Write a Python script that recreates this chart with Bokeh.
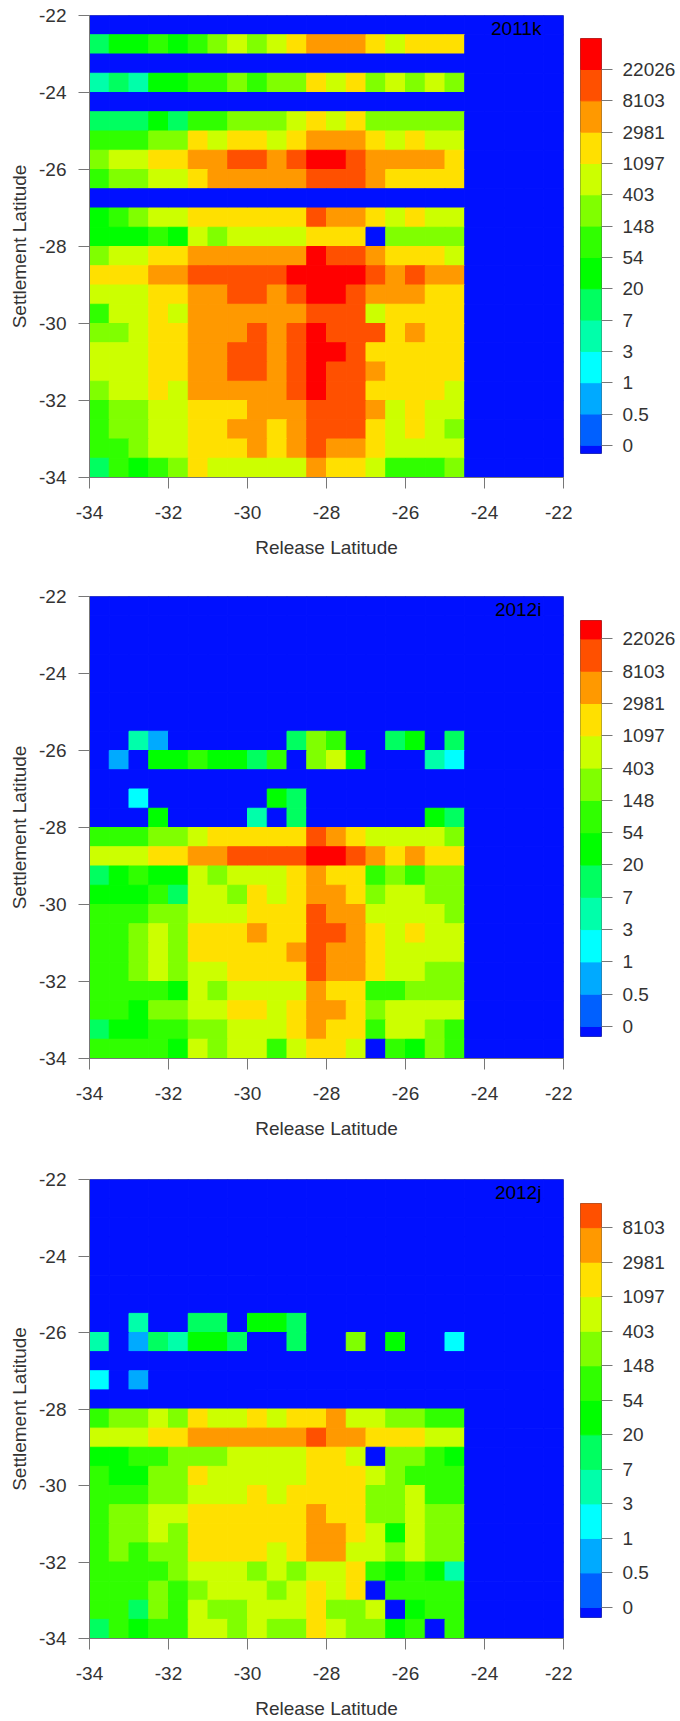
from bokeh.plotting import figure
from bokeh.layouts import column, row
from bokeh.models import ColumnDataSource, FixedTicker, Range1d
from bokeh.core.properties import value
from bokeh.embed import file_html
from bokeh.resources import INLINE

# Colour bands, lowest first (letter code used in the grids below)
band_codes = "BabcdefghijklM"
band_colors = ["#0010ff", "#0060ff", "#00aaff", "#00ffff", "#00ffaa", "#00ff60", "#00ff00",
               "#30ff00", "#80ff00", "#ccff00", "#ffe000", "#ff9900", "#ff5000", "#ff0000"]
color_ticks_full = ["0", "0.5", "1", "3", "7", "20", "54", "148", "403", "1097", "2981", "8103", "22026"]
color_ticks_short = color_ticks_full[:-1]
axis_ticks = [-34, -32, -30, -28, -26, -24, -22]
axis_labels = ["-34", "-32", "-30", "-28", "-26", "-24", "-22"]

# Rows run from settlement latitude -22 (top) to -34 (bottom); columns from release -34 to -22.
grid_2011k = [
    "BBBBBBBBBBBBBBBBBBBBBBBB",
    "effgfghihijkkkjijjjBBBBB",
    "BBBBBBBBBBBBBBBBBBBBBBBB",
    "dedffgghghhjijhihihBBBBB",
    "BBBBBBBBBBBBBBBBBBBBBBBB",
    "eeefegghhhijijhhhhhBBBBB",
    "ggghhjijjijkkkjijiiBBBBB",
    "hiijjkkllklMMlkkkkjBBBBB",
    "ghhiijkkkkklllkjjjjBBBBB",
    "BBBBBBBBBBBBBBBBBBBBBBBB",
    "fghiijjjjjjlkkjijiiBBBBB",
    "fffgfihiiiijjjBhhhhBBBBB",
    "hiijjkkkkkkMllkjjjiBBBBB",
    "jjjkklllllMMMMlklkkBBBBB",
    "iiijjkkllklMMlkkkjjBBBBB",
    "giijikkkkkklllijjjjBBBBB",
    "hhijjkkklklMllljkjjBBBBB",
    "iiijjkkllklMMljjjjjBBBBB",
    "iiijjkkllklMllkjjjjBBBBB",
    "hiijikkkkklMlljjjjiBBBBB",
    "ghhiijjjkkklllkijiiBBBBB",
    "ghhiijjkkjkllljijihBBBBB",
    "gghiijjjkjklkkjiiiiBBBBB",
    "egfghjiiiiikjjiggghBBBBB",
]
grid_2012i = [
    "BBBBBBBBBBBBBBBBBBBBBBBB",
    "BBBBBBBBBBBBBBBBBBBBBBBB",
    "BBBBBBBBBBBBBBBBBBBBBBBB",
    "BBBBBBBBBBBBBBBBBBBBBBBB",
    "BBBBBBBBBBBBBBBBBBBBBBBB",
    "BBBBBBBBBBBBBBBBBBBBBBBB",
    "BBBBBBBBBBBBBBBBBBBBBBBB",
    "BBdbBBBBBBehgBBefBeBBBBB",
    "BbBffgffegBhifBBBdcBBBBB",
    "BBBBBBBBBBBBBBBBBBBBBBBB",
    "BBcBBBBBBfeBBBBBBBBBBBBB",
    "BBBfBBBBdBeBBBBBBfeBBBBB",
    "ggghhijjjjjlkjiiiihBBBBB",
    "iiijjkkllllMMlkjkjjBBBBB",
    "efgffihiiijkjjghghhBBBBB",
    "fffgeiihjijkkjhiihhBBBBB",
    "ggghhiiijjjlkkiiiihBBBBB",
    "gghihjjjkjjllkjijiiBBBBB",
    "gghihjjjjjklkkjiiiiBBBBB",
    "gghihiijjjjlkkjiihhBBBBB",
    "ggggfihiiiikjjgghhhBBBBB",
    "ggfhhiijjijkkjhiiiiBBBBB",
    "effgghhiiijkjjgiihgBBBBB",
    "ggggfihiigijjiBgfhgBBBBB",
]
grid_2012j = [
    "BBBBBBBBBBBBBBBBBBBBBBBB",
    "BBBBBBBBBBBBBBBBBBBBBBBB",
    "BBBBBBBBBBBBBBBBBBBBBBBB",
    "BBBBBBBBBBBBBBBBBBBBBBBB",
    "BBBBBBBBBBBBBBBBBBBBBBBB",
    "BBBBBBBBBBBBBBBBBBBBBBBB",
    "BBBBBBBBBBBBBBBBBBBBBBBB",
    "BBdBBeeBffeBBBBBBBBBBBBB",
    "dBbedffeBBeBBhBfBBcBBBBB",
    "BBBBBBBBBBBBBBBBBBBBBBBB",
    "cBbBBBBBBBBBBBBBBBBBBBBB",
    "BBBBBBBBBBBBBBBBBBBBBBBB",
    "ghhihjiijijjkiihhggBBBBB",
    "iiijjkkkkkklkkjjjiiBBBBB",
    "ffgghhhiiiijjiBhhgfBBBBB",
    "gffhhjiiiiijjjihgggBBBBB",
    "ggghhiiijijjjjhhiggBBBBB",
    "ghhiijjjjjjkjjhhihhBBBBB",
    "ghhihjjjjjjkkjifihhBBBBB",
    "ghghhjjjjijkkiihihhBBBBB",
    "gggghiiihihiijgfgfdBBBBB",
    "ggghghiiihijijBggggBBBBB",
    "ggehgihhiiijhhiBfggBBBBB",
    "egfggiihihhjihhfgBgBBBBB",
]
panel_titles = ["2011k", "2012i", "2012j"]
panel_grids = [grid_2011k, grid_2012i, grid_2012j]
x_limits = (-34, -22)
cell_size = 0.5

FONT = "Liberation Sans"
TEXT = "#333333"
LINE = "#777777"
FS = "19px"

# pixel layout per panel: top border, bottom border, figure height
panel_box = [(15, 93, 570), (26, 92, 580), (29, 80, 571)]
# colour bar: top border, bottom border, range below tick 0, range above last tick
bar_box = [(38, 117, 0.26, 0.99), (50, 114, 0.31, 0.57), (53, 104, 0.29, 0.70)]
bar_ticks = [color_ticks_full, color_ticks_full, color_ticks_short]


def style_axis(ax, ticks, labels):
    ax.ticker = FixedTicker(ticks=ticks)
    ax.major_label_overrides = dict(zip(ticks, labels))
    ax.minor_tick_line_color = None
    ax.major_tick_in = 0
    ax.major_tick_out = 11
    ax.major_tick_line_color = LINE
    ax.axis_line_color = LINE
    ax.major_label_text_font = FONT
    ax.major_label_text_font_size = FS
    ax.major_label_text_color = TEXT


def heatmap(title, grid, box):
    top_b, bot_b, h = box
    p = figure(width=572, height=h, output_backend="svg", toolbar_location=None,
               x_range=Range1d(*x_limits), y_range=Range1d(*x_limits), frame_align=False,
               min_border_left=89, min_border_right=9, min_border_top=top_b, min_border_bottom=bot_b,
               x_axis_label="Release Latitude", y_axis_label="Settlement Latitude")
    left, bottom, colors = [], [], []
    for r, line in enumerate(grid):
        for c, code in enumerate(line):
            left.append(x_limits[0] + c * cell_size)
            bottom.append(x_limits[1] - (r + 1) * cell_size)
            colors.append(band_colors[band_codes.index(code)])
    src = ColumnDataSource(dict(left=left, right=[v + cell_size for v in left],
                                bottom=bottom, top=[v + cell_size for v in bottom], color=colors))
    p.quad(left="left", right="right", bottom="bottom", top="top", source=src,
           fill_color="color", line_color="color", line_width=1)
    p.text(x=[-22.56], y=[-22.33], text=[title], text_align="right", text_baseline="middle",
           text_font=value(FONT), text_font_size=FS, text_color="#000000")
    p.grid.visible = False
    p.outline_line_color = LINE
    for ax in (p.xaxis[0], p.yaxis[0]):
        style_axis(ax, axis_ticks, axis_labels)
        ax.axis_label_text_font = FONT
        ax.axis_label_text_font_size = FS
        ax.axis_label_text_font_style = "normal"
        ax.axis_label_text_color = TEXT
    p.xaxis[0].major_label_standoff = 17
    p.xaxis[0].axis_label_standoff = 15
    p.yaxis[0].major_label_standoff = 12
    p.yaxis[0].axis_label_standoff = 6
    return p


def colorbar(labels, box, h):
    top_b, bot_b, below, above = box
    n = len(labels)
    p = figure(width=108, height=h, output_backend="svg", toolbar_location=None,
               x_range=Range1d(0, 1), y_range=Range1d(-below, n - 1 + above), frame_align=False,
               x_axis_location=None, y_axis_location="right",
               min_border_left=8, min_border_right=79, min_border_top=top_b, min_border_bottom=bot_b)
    edges = [-below] + list(range(n)) + [n - 1 + above]
    src = ColumnDataSource(dict(bottom=edges[:-1], top=edges[1:], color=band_colors[:n + 1]))
    p.quad(left=0, right=1, bottom="bottom", top="top", source=src,
           fill_color="color", line_color="color", line_width=1)
    p.grid.visible = False
    p.outline_line_color = "#555555"
    style_axis(p.yaxis[0], list(range(n)), labels)
    p.yaxis[0].axis_line_color = None
    p.yaxis[0].major_label_standoff = 10
    return p


rows = []
for title, grid, box, bb, labels in zip(panel_titles, panel_grids, panel_box, bar_box, bar_ticks):
    rows.append(row(heatmap(title, grid, box), colorbar(labels, bb, box[2])))

open("out.html", "w").write(file_html(column(*rows), INLINE))
